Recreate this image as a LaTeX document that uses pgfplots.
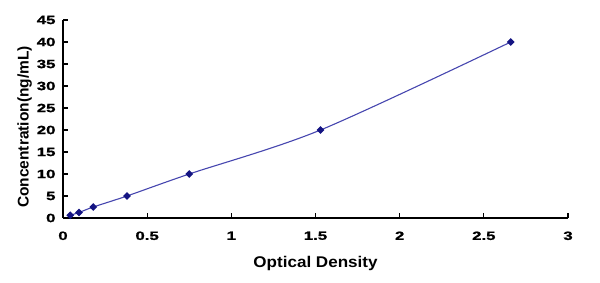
\documentclass[border=0pt]{standalone}
\usepackage{pgfplots}
\pgfplotsset{compat=1.18}
\usepackage{fontspec}
\setmainfont{Liberation Sans}[BoldFont={Liberation Sans Bold}]
\newfontfamily\tickfont{Liberation Sans Bold}[FakeStretch=1.4,FakeBold=1.2]
\newfontfamily\labfont{Liberation Sans Bold}
\newfontfamily\xlabfont{Liberation Sans Bold}[FakeStretch=1.1]
\definecolor{linec}{RGB}{70,70,175}
\definecolor{markc}{RGB}{20,20,130}
\begin{document}
\begin{tikzpicture}
\useasboundingbox (-63pt,-65pt) rectangle (537pt,218pt);
\begin{axis}[
  scale only axis,
  width=505pt, height=198pt,
  xmin=0, xmax=3, ymin=0, ymax=45,
  axis lines=left,
  axis line style={-, line width=1.2pt, black},
  xtick={0,0.5,1,1.5,2,2.5,3},
  xticklabels={0,0.5,1,1.5,2,2.5,3},
  ytick={0,5,10,15,20,25,30,35,40,45},
  yticklabels={0,5,10,15,20,25,30,35,40,45},
  tick align=inside,
  major tick length=5pt,
  tick style={line width=1.2pt, black},
  tick label style={font=\fontsize{12}{14}\tickfont},
  xticklabel style={yshift=-10pt},
  yticklabel style={xshift=-4pt},
  xlabel={Optical Density},
  ylabel={Concentration(ng/mL)},
  xlabel style={font=\fontsize{15.5}{17}\xlabfont, yshift=-9pt},
  ylabel style={font=\fontsize{15.5}{17}\labfont, at={(ticklabel cs:0.46)}, yshift=-2pt},
]
\addplot[color=linec, line width=1.1pt, smooth, mark=square*, mark size=2.2pt,
  mark options={fill=markc, draw=markc, rotate=45}] coordinates {
  (0.043,0.625) (0.095,1.25) (0.18,2.5) (0.38,5) (0.75,10) (1.53,20) (2.66,40)
};
\end{axis}
\end{tikzpicture}
\end{document}
